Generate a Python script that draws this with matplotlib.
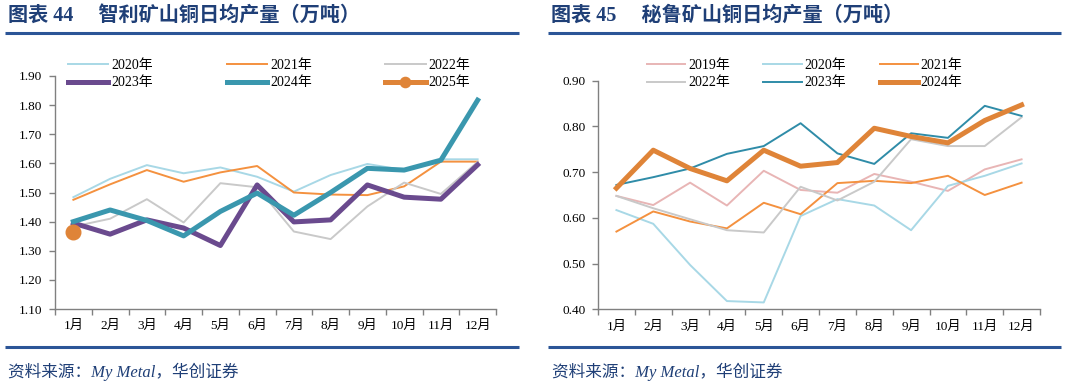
import matplotlib
matplotlib.use("Agg")
import matplotlib.pyplot as plt
from matplotlib.lines import Line2D
import numpy as np

plt.rcParams['font.family'] = ['Liberation Serif', 'Noto Sans CJK SC']

months = ['1月', '2月', '3月', '4月', '5月', '6月', '7月', '8月', '9月', '10月', '11月', '12月']

# 智利矿山铜日均产量 (万吨)
chile_2020 = [1.484, 1.547, 1.594, 1.566, 1.586, 1.554, 1.503, 1.560, 1.598, 1.577, 1.614, 1.614]
chile_2021 = [1.475, 1.528, 1.577, 1.537, 1.569, 1.591, 1.500, 1.493, 1.491, 1.521, 1.606, 1.606]
chile_2022 = [1.383, 1.410, 1.477, 1.397, 1.532, 1.518, 1.366, 1.340, 1.452, 1.534, 1.495, 1.605]
chile_2023 = [1.395, 1.357, 1.406, 1.378, 1.318, 1.526, 1.399, 1.406, 1.526, 1.484, 1.477, 1.595]
chile_2024 = [1.400, 1.440, 1.404, 1.351, 1.435, 1.498, 1.422, 1.500, 1.583, 1.577, 1.611, 1.817]
chile_2025 = [1.363]

# 秘鲁矿山铜日均产量 (万吨)
peru_2019 = [0.648, 0.628, 0.677, 0.627, 0.703, 0.661, 0.655, 0.696, 0.679, 0.659, 0.706, 0.728]
peru_2020 = [0.617, 0.587, 0.497, 0.418, 0.415, 0.604, 0.641, 0.627, 0.573, 0.670, 0.692, 0.719]
peru_2021 = [0.570, 0.614, 0.592, 0.577, 0.633, 0.608, 0.676, 0.681, 0.676, 0.692, 0.650, 0.677]
peru_2022 = [0.648, 0.621, 0.597, 0.573, 0.568, 0.668, 0.638, 0.679, 0.772, 0.757, 0.757, 0.820]
peru_2023 = [0.672, 0.689, 0.708, 0.740, 0.757, 0.807, 0.741, 0.718, 0.785, 0.775, 0.845, 0.823]
peru_2024 = [0.665, 0.748, 0.708, 0.681, 0.748, 0.713, 0.721, 0.796, 0.778, 0.764, 0.813, 0.847]

LIGHTBLUE = '#A8D8E6'
ORANGE = '#F4913F'
GRAY = '#C9C9C9'
PURPLE = '#6A4A8E'
TEAL = '#3A97AE'
DORANGE = '#DF8438'
PINK = '#E8B5B5'
TEAL2 = '#2F8CA8'
NAVY = '#1F3F77'
RULE = '#2B5597'

W, H = 1066, 388
fig = plt.figure(figsize=(W / 100, H / 100), dpi=100)


def px_axes(x0, y0, x1, y1):
    return fig.add_axes([x0 / W, 1 - y1 / H, (x1 - x0) / W, (y1 - y0) / H])


def style_axes(ax, ylo, yhi):
    x = np.arange(1, 13)
    ax.set_xlim(0.5, 12.5)
    ax.set_ylim(ylo, yhi)
    ax.set_yticks(np.round(np.arange(ylo, yhi + 0.001, 0.1), 2))
    ax.yaxis.set_major_formatter(plt.FormatStrFormatter('%.2f'))
    ax.set_xticks(np.arange(0.5, 13, 1))
    ax.set_xticklabels([])
    ax.set_xticks(x, minor=True)
    ax.set_xticklabels(months, minor=True)
    ax.tick_params(axis='x', which='major', length=4, width=1, color='#808080', direction='out')
    ax.tick_params(axis='x', which='minor', length=0, pad=8, labelsize=9.5)
    ax.tick_params(axis='y', length=4, width=1, color='#808080', labelsize=9.5, pad=5)
    for s in ['top', 'right']:
        ax.spines[s].set_visible(False)
    for s in ['left', 'bottom']:
        ax.spines[s].set_color('#808080')
        ax.spines[s].set_linewidth(1.0)
    ax.set_facecolor('none')


x = np.arange(1, 13)

# ---------- left chart ----------
ax1 = px_axes(55, 76, 496, 309)
style_axes(ax1, 1.10, 1.90)
l20, = ax1.plot(x, chile_2020, color=LIGHTBLUE, lw=1.4, label='2020年')
l21, = ax1.plot(x, chile_2021, color=ORANGE, lw=1.4, label='2021年')
l22, = ax1.plot(x, chile_2022, color=GRAY, lw=1.4, label='2022年')
l23, = ax1.plot(x, chile_2023, color=PURPLE, lw=3.6, label='2023年')
l24, = ax1.plot(x, chile_2024, color=TEAL, lw=3.6, label='2024年')
l25, = ax1.plot(x[:len(chile_2025)], chile_2025, color=DORANGE, lw=3.6, marker='o',
                markersize=10.5, label='2025年')
hs = [l20, l23, l21, l24, l22, l25]
ax1.legend(hs, [h.get_label() for h in hs], ncol=3, frameon=False, loc='center left',
           bbox_to_anchor=(68 / W, 1 - 74 / H), bbox_transform=fig.transFigure,
           fontsize=10, handlelength=2.9, handletextpad=0.22, columnspacing=5.3,
           labelspacing=0.35, borderpad=0, borderaxespad=0, markerscale=0.7)

# ---------- right chart ----------
ax2 = px_axes(598, 80.7, 1040, 309.3)
style_axes(ax2, 0.40, 0.90)
r19, = ax2.plot(x, peru_2019, color=PINK, lw=1.4, label='2019年')
r20, = ax2.plot(x, peru_2020, color=LIGHTBLUE, lw=1.4, label='2020年')
r21, = ax2.plot(x, peru_2021, color=ORANGE, lw=1.4, label='2021年')
r22, = ax2.plot(x, peru_2022, color=GRAY, lw=1.4, label='2022年')
r23, = ax2.plot(x, peru_2023, color=TEAL2, lw=1.4, label='2023年')
r24, = ax2.plot(x, peru_2024, color=DORANGE, lw=3.6, label='2024年')
hs = [r19, r22, r20, r23, r21, r24]
ax2.legend(hs, [h.get_label() for h in hs], ncol=3, frameon=False, loc='center left',
           bbox_to_anchor=(647 / W, 1 - 74 / H), bbox_transform=fig.transFigure,
           fontsize=10, handlelength=2.75, handletextpad=0.22, columnspacing=2.4,
           labelspacing=0.35, borderpad=0, borderaxespad=0)

# ---------- titles, rules, sources ----------
tfont = ['Liberation Serif', 'Noto Sans CJK SC']
fig.text(8 / W, 1 - 16 / H, '图表 44\u3000 智利矿山铜日均产量（万吨）', fontsize=14.5,
         fontweight='bold', color=NAVY, va='center', ha='left', family=tfont)
fig.text(551 / W, 1 - 16 / H, '图表 45\u3000 秘鲁矿山铜日均产量（万吨）', fontsize=14.5,
         fontweight='bold', color=NAVY, va='center', ha='left', family=tfont)

for (xa, xb) in [(5, 519), (548, 1061)]:
    for yy in (33.3, 347.3):
        fig.add_artist(Line2D([xa / W, xb / W], [1 - yy / H, 1 - yy / H],
                              color=RULE, lw=2.2, solid_capstyle='butt'))

fig.text(8 / W, 1 - 372 / H, '资料来源：My Metal，华创证券', fontsize=12, color=NAVY,
         style='italic', va='center', ha='left', family=tfont)
fig.text(552 / W, 1 - 372 / H, '资料来源：My Metal，华创证券', fontsize=12, color=NAVY,
         style='italic', va='center', ha='left', family=tfont)

fig.savefig('out.png', dpi=100)
